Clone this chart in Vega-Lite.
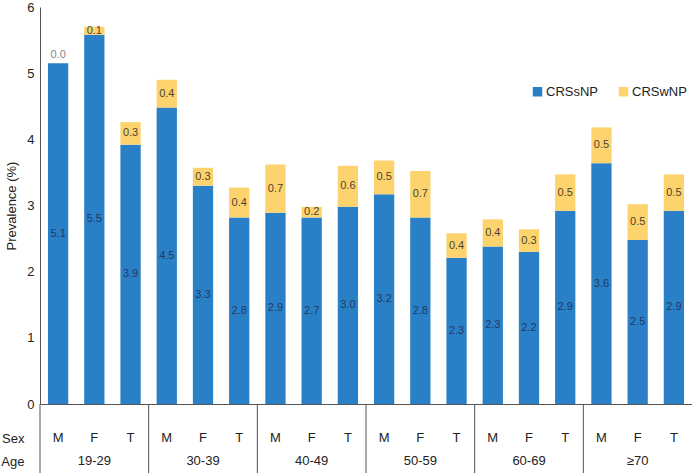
{
  "$schema": "https://vega.github.io/schema/vega-lite/v6.json",
  "padding": {"top": 1, "left": 0, "right": 0, "bottom": 0},
  "spacing": 0,
  "bounds": "flush",
  "config": {
    "view": {"stroke": null},
    "font": "Liberation Sans",
    "axis": {"labelFont": "Liberation Sans", "titleFont": "Liberation Sans", "labelColor": "#222", "titleColor": "#222"},
    "legend": {"labelFont": "Liberation Sans"},
    "text": {"font": "Liberation Sans"}
  },
  "datasets": {
    "prev": [
      {"bar": "19-29 M", "age": "19-29", "sex": "M", "type": "CRSsNP", "value": 5.15, "label": "5.1"},
      {"bar": "19-29 M", "age": "19-29", "sex": "M", "type": "CRSwNP", "value": 0.0, "label": "0.0"},
      {"bar": "19-29 F", "age": "19-29", "sex": "F", "type": "CRSsNP", "value": 5.58, "label": "5.5"},
      {"bar": "19-29 F", "age": "19-29", "sex": "F", "type": "CRSwNP", "value": 0.12, "label": "0.1"},
      {"bar": "19-29 T", "age": "19-29", "sex": "T", "type": "CRSsNP", "value": 3.92, "label": "3.9"},
      {"bar": "19-29 T", "age": "19-29", "sex": "T", "type": "CRSwNP", "value": 0.34, "label": "0.3"},
      {"bar": "30-39 M", "age": "30-39", "sex": "M", "type": "CRSsNP", "value": 4.48, "label": "4.5"},
      {"bar": "30-39 M", "age": "30-39", "sex": "M", "type": "CRSwNP", "value": 0.42, "label": "0.4"},
      {"bar": "30-39 F", "age": "30-39", "sex": "F", "type": "CRSsNP", "value": 3.30, "label": "3.3"},
      {"bar": "30-39 F", "age": "30-39", "sex": "F", "type": "CRSwNP", "value": 0.27, "label": "0.3"},
      {"bar": "30-39 T", "age": "30-39", "sex": "T", "type": "CRSsNP", "value": 2.82, "label": "2.8"},
      {"bar": "30-39 T", "age": "30-39", "sex": "T", "type": "CRSwNP", "value": 0.45, "label": "0.4"},
      {"bar": "40-49 M", "age": "40-49", "sex": "M", "type": "CRSsNP", "value": 2.89, "label": "2.9"},
      {"bar": "40-49 M", "age": "40-49", "sex": "M", "type": "CRSwNP", "value": 0.73, "label": "0.7"},
      {"bar": "40-49 F", "age": "40-49", "sex": "F", "type": "CRSsNP", "value": 2.82, "label": "2.7"},
      {"bar": "40-49 F", "age": "40-49", "sex": "F", "type": "CRSwNP", "value": 0.16, "label": "0.2"},
      {"bar": "40-49 T", "age": "40-49", "sex": "T", "type": "CRSsNP", "value": 2.98, "label": "3.0"},
      {"bar": "40-49 T", "age": "40-49", "sex": "T", "type": "CRSwNP", "value": 0.62, "label": "0.6"},
      {"bar": "50-59 M", "age": "50-59", "sex": "M", "type": "CRSsNP", "value": 3.17, "label": "3.2"},
      {"bar": "50-59 M", "age": "50-59", "sex": "M", "type": "CRSwNP", "value": 0.51, "label": "0.5"},
      {"bar": "50-59 F", "age": "50-59", "sex": "F", "type": "CRSsNP", "value": 2.82, "label": "2.8"},
      {"bar": "50-59 F", "age": "50-59", "sex": "F", "type": "CRSwNP", "value": 0.70, "label": "0.7"},
      {"bar": "50-59 T", "age": "50-59", "sex": "T", "type": "CRSsNP", "value": 2.21, "label": "2.3"},
      {"bar": "50-59 T", "age": "50-59", "sex": "T", "type": "CRSwNP", "value": 0.37, "label": "0.4"},
      {"bar": "60-69 M", "age": "60-69", "sex": "M", "type": "CRSsNP", "value": 2.38, "label": "2.3"},
      {"bar": "60-69 M", "age": "60-69", "sex": "M", "type": "CRSwNP", "value": 0.41, "label": "0.4"},
      {"bar": "60-69 F", "age": "60-69", "sex": "F", "type": "CRSsNP", "value": 2.30, "label": "2.2"},
      {"bar": "60-69 F", "age": "60-69", "sex": "F", "type": "CRSwNP", "value": 0.34, "label": "0.3"},
      {"bar": "60-69 T", "age": "60-69", "sex": "T", "type": "CRSsNP", "value": 2.92, "label": "2.9"},
      {"bar": "60-69 T", "age": "60-69", "sex": "T", "type": "CRSwNP", "value": 0.55, "label": "0.5"},
      {"bar": "≥70 M", "age": "≥70", "sex": "M", "type": "CRSsNP", "value": 3.64, "label": "3.6"},
      {"bar": "≥70 M", "age": "≥70", "sex": "M", "type": "CRSwNP", "value": 0.54, "label": "0.5"},
      {"bar": "≥70 F", "age": "≥70", "sex": "F", "type": "CRSsNP", "value": 2.48, "label": "2.5"},
      {"bar": "≥70 F", "age": "≥70", "sex": "F", "type": "CRSwNP", "value": 0.54, "label": "0.5"},
      {"bar": "≥70 T", "age": "≥70", "sex": "T", "type": "CRSsNP", "value": 2.92, "label": "2.9"},
      {"bar": "≥70 T", "age": "≥70", "sex": "T", "type": "CRSwNP", "value": 0.55, "label": "0.5"}
    ]
  },
  "vconcat": [
    {
      "width": 652,
      "height": 397,
      "data": {"name": "prev"},
      "encoding": {
        "x": {"field": "bar", "type": "nominal", "sort": null,
              "scale": {"paddingInner": 0, "paddingOuter": 0},
              "axis": {"labels": false, "ticks": false, "title": null, "domainColor": "#555", "domainWidth": 1}}
      },
      "layer": [
        {
          "mark": {"type": "bar", "width": {"band": 0.56}},
          "encoding": {
            "y": {"field": "value", "type": "quantitative", "stack": "zero",
                  "scale": {"domain": [0, 6], "nice": false},
                  "axis": {"values": [0, 1, 2, 3, 4, 5, 6], "format": "d", "ticks": false, "grid": false, "domainColor": "#555",
                           "labelFontSize": 13, "labelPadding": 6, "title": "Prevalence (%)", "titleFontSize": 13,
                           "titleFontWeight": "normal", "titlePadding": 8}},
            "color": {"field": "type", "type": "nominal",
                      "scale": {"domain": ["CRSsNP", "CRSwNP"], "range": ["#2a80c6", "#fcd36c"]},
                      "legend": {"title": null, "orient": "none", "direction": "horizontal", "legendX": 491, "legendY": 78,
                                 "symbolType": "square", "symbolSize": 90, "symbolStrokeWidth": 0, "labelFontSize": 13,
                                 "labelColor": "#222", "labelOffset": 2, "columnPadding": 18}},
            "order": {"field": "type", "sort": "ascending"}
          }
        },
        {
          "transform": [
            {"stack": "value", "groupby": ["bar"], "sort": [{"field": "type", "order": "ascending"}], "as": ["v0", "v1"]},
            {"calculate": "(datum.v0 + datum.v1) / 2", "as": "mid"},
            {"filter": "datum.value > 0"}
          ],
          "mark": {"type": "text", "fontSize": 11, "baseline": "middle"},
          "encoding": {
            "y": {"field": "mid", "type": "quantitative"},
            "text": {"field": "label"},
            "fill": {"field": "type", "type": "nominal", "scale": {"domain": ["CRSsNP", "CRSwNP"], "range": ["#1f3a66", "#4d4430"]}, "legend": null}
          }
        },
        {
          "transform": [
            {"stack": "value", "groupby": ["bar"], "sort": [{"field": "type", "order": "ascending"}], "as": ["v0", "v1"]},
            {"filter": "datum.value == 0"}
          ],
          "mark": {"type": "text", "fontSize": 11, "baseline": "bottom", "dy": -3, "color": "#888"},
          "encoding": {
            "y": {"field": "v1", "type": "quantitative"},
            "text": {"field": "label"}
          }
        }
      ],
      "resolve": {"scale": {"fill": "independent"}}
    },
    {
      "width": 652,
      "height": 69,
      "data": {"name": "prev"},
      "transform": [{"filter": "datum.type == 'CRSsNP'"}],
      "encoding": {
        "x": {"field": "bar", "type": "nominal", "sort": null,
              "scale": {"paddingInner": 0, "paddingOuter": 0}, "axis": null}
      },
      "layer": [
        {
          "mark": {"type": "text", "fontSize": 13, "color": "#222"},
          "encoding": {
            "y": {"datum": "Sex", "type": "nominal",
                  "scale": {"type": "point", "domain": ["Sex", "Age"], "range": [34, 57], "padding": 0},
                  "axis": {"title": null, "domain": false, "ticks": false, "labelFontSize": 13, "labelPadding": 16, "labelColor": "#222"}},
            "text": {"field": "sex"}
          }
        },
        {
          "transform": [{"filter": "datum.sex == 'F'"}],
          "mark": {"type": "text", "fontSize": 13, "color": "#222"},
          "encoding": {
            "y": {"datum": "Age", "type": "nominal"},
            "text": {"field": "age"}
          }
        },
        {
          "transform": [{"filter": "datum.sex == 'M'"}],
          "mark": {"type": "rule", "color": "#555", "strokeWidth": 1},
          "encoding": {
            "x": {"field": "bar", "type": "nominal", "sort": null, "bandPosition": 0}
          }
        }
      ]
    }
  ]
}
